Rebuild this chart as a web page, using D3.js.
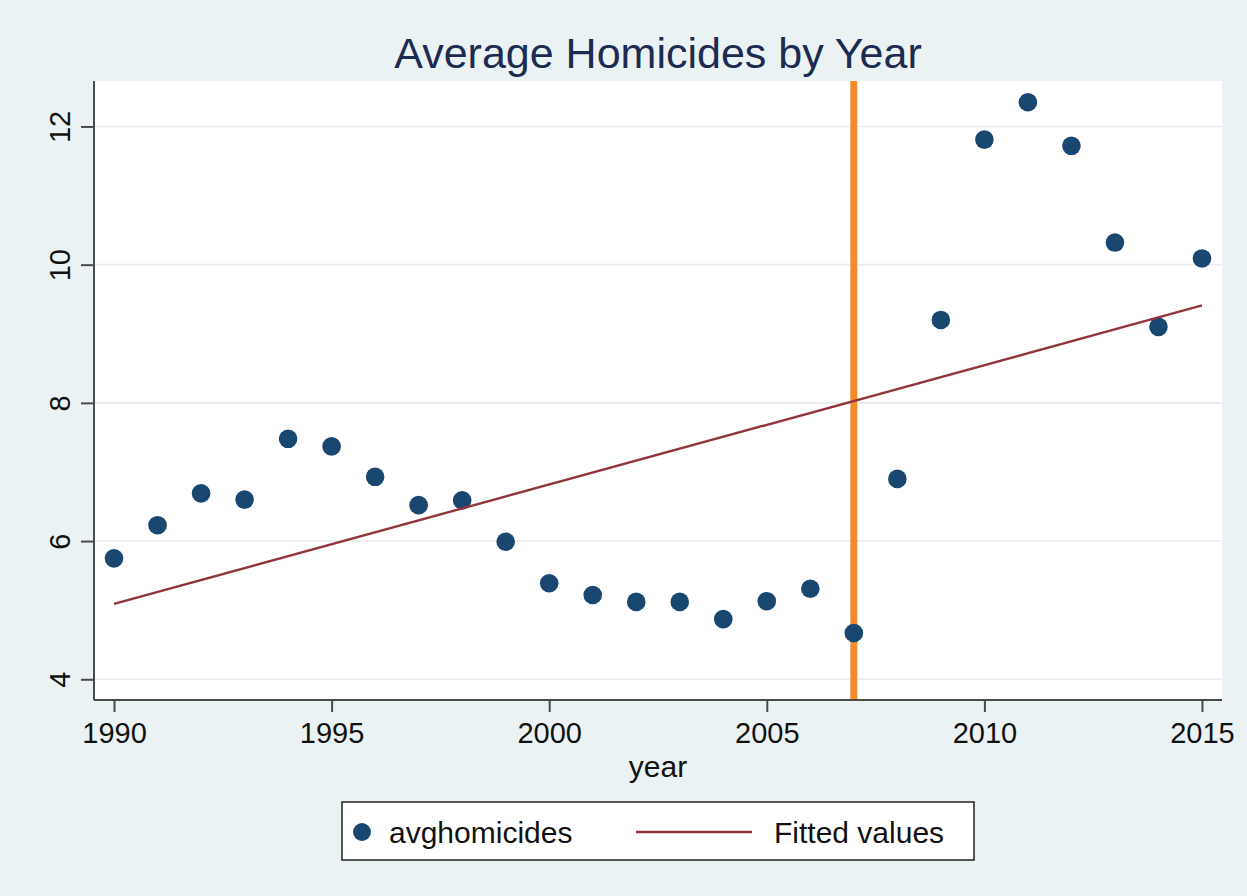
<!DOCTYPE html>
<html>
<head>
<meta charset="utf-8">
<script src="https://cdn.jsdelivr.net/npm/d3@7"></script>
<style>
  html, body { margin: 0; padding: 0; background: #eaf2f3; }
  svg { display: block; }
  text { font-family: "Liberation Sans", Arial, Helvetica, sans-serif; }
</style>
</head>
<body>
<svg id="chart" width="1247" height="896"></svg>
<script>
// ---- data ----
const years = [1990, 1991, 1992, 1993, 1994, 1995, 1996, 1997, 1998, 1999,
               2000, 2001, 2002, 2003, 2004, 2005, 2006, 2007, 2008, 2009,
               2010, 2011, 2012, 2013, 2014, 2015];
const avgHomicides = [5.75, 6.23, 6.69, 6.60, 7.48, 7.37, 6.93, 6.52, 6.59, 5.99,
                      5.39, 5.22, 5.12, 5.12, 4.87, 5.13, 5.31, 4.67, 6.90, 9.20,
                      11.81, 12.35, 11.72, 10.32, 9.10, 10.09];
const fittedYears = [1990, 2015];
const fittedValues = [5.09, 9.41];
const xTicks = [1990, 1995, 2000, 2005, 2010, 2015];
const yTicks = [4, 6, 8, 10, 12];
const xLineYear = [2007];
const titleText = "Average Homicides by Year";
const xTitle = "year";
const legendLabels = ["avghomicides", "Fitted values"];

// ---- layout ----
const svg = d3.select("#chart");
const W = 1247, H = 896;
const plot = { left: 94, right: 1222, top: 81, bottom: 700 };

svg.append("rect").attr("width", W).attr("height", H).attr("fill", "#eaf2f3");

const x = d3.scaleLinear().domain([1989.54, 2015.46]).range([plot.left, plot.right]);
const y = d3.scaleLinear().domain([3.70, 12.658]).range([plot.bottom, plot.top]);

// plot region
svg.append("rect")
  .attr("x", plot.left).attr("y", plot.top)
  .attr("width", plot.right - plot.left).attr("height", plot.bottom - plot.top)
  .attr("fill", "#ffffff");

// gridlines
svg.append("g").selectAll("line").data(yTicks).join("line")
  .attr("x1", plot.left).attr("x2", plot.right)
  .attr("y1", d => y(d)).attr("y2", d => y(d))
  .attr("stroke", "#eaeaea").attr("stroke-width", 1.6);

// vertical reference line
svg.append("g").selectAll("line").data(xLineYear).join("line")
  .attr("x1", d => x(d)).attr("x2", d => x(d))
  .attr("y1", plot.top).attr("y2", plot.bottom)
  .attr("stroke", "#f28b2a").attr("stroke-width", 7);

// scatter points
const navy = "#1a476f";
svg.append("g").selectAll("circle").data(years.map((yr, i) => [yr, avgHomicides[i]])).join("circle")
  .attr("cx", d => x(d[0])).attr("cy", d => y(d[1]))
  .attr("r", 9.3).attr("fill", navy);

// fitted line
const fitted = fittedYears.map((yr, i) => [yr, fittedValues[i]]);
svg.append("path")
  .attr("d", d3.line().x(d => x(d[0])).y(d => y(d[1]))(fitted))
  .attr("fill", "none").attr("stroke", "#90353b").attr("stroke-width", 2.4);

// axes
const axisColor = "#4a4a4a";
const yAxis = d3.axisLeft(y).tickValues(yTicks).tickSize(13).tickFormat(d3.format("d"));
const gy = svg.append("g").attr("transform", `translate(${plot.left},0)`).call(yAxis);
gy.select(".domain").attr("stroke", axisColor).attr("stroke-width", 2)
  .attr("d", `M0,${plot.top}V${plot.bottom}`);
gy.selectAll(".tick line").attr("stroke", axisColor).attr("stroke-width", 2);
gy.selectAll(".tick text")
  .attr("x", 0).attr("y", 0).attr("dy", null)
  .attr("transform", "translate(-24,0) rotate(-90)")
  .attr("text-anchor", "middle")
  .attr("font-size", 29).attr("fill", "#111");

const xAxis = d3.axisBottom(x).tickValues(xTicks).tickSize(12).tickFormat(d3.format("d"));
const gx = svg.append("g").attr("transform", `translate(0,${plot.bottom})`).call(xAxis);
gx.select(".domain").attr("stroke", axisColor).attr("stroke-width", 2)
  .attr("d", `M${plot.left},0H${plot.right}`);
gx.selectAll(".tick line").attr("stroke", axisColor).attr("stroke-width", 2);
gx.selectAll(".tick text")
  .attr("y", 43).attr("dy", null)
  .attr("font-size", 29).attr("fill", "#111");

// title
svg.append("text")
  .attr("x", (plot.left + plot.right) / 2).attr("y", 68)
  .attr("text-anchor", "middle")
  .attr("font-size", 43).attr("fill", "#1c2b52")
  .text(titleText);

// x axis title
svg.append("text")
  .attr("x", (plot.left + plot.right) / 2).attr("y", 777)
  .attr("text-anchor", "middle")
  .attr("font-size", 30).attr("fill", "#111")
  .text(xTitle);

// legend
const lg = svg.append("g");
lg.append("rect")
  .attr("x", 342).attr("y", 802).attr("width", 632).attr("height", 58)
  .attr("fill", "#ffffff").attr("stroke", "#222").attr("stroke-width", 1.5);
lg.append("circle").attr("cx", 362).attr("cy", 832).attr("r", 9).attr("fill", navy);
lg.append("text").attr("x", 389).attr("y", 843).attr("font-size", 30).attr("fill", "#111")
  .text(legendLabels[0]);
lg.append("line").attr("x1", 636).attr("x2", 752).attr("y1", 832).attr("y2", 832)
  .attr("stroke", "#90353b").attr("stroke-width", 2.4);
lg.append("text").attr("x", 774).attr("y", 843).attr("font-size", 30).attr("fill", "#111")
  .text(legendLabels[1]);
</script>
</body>
</html>
